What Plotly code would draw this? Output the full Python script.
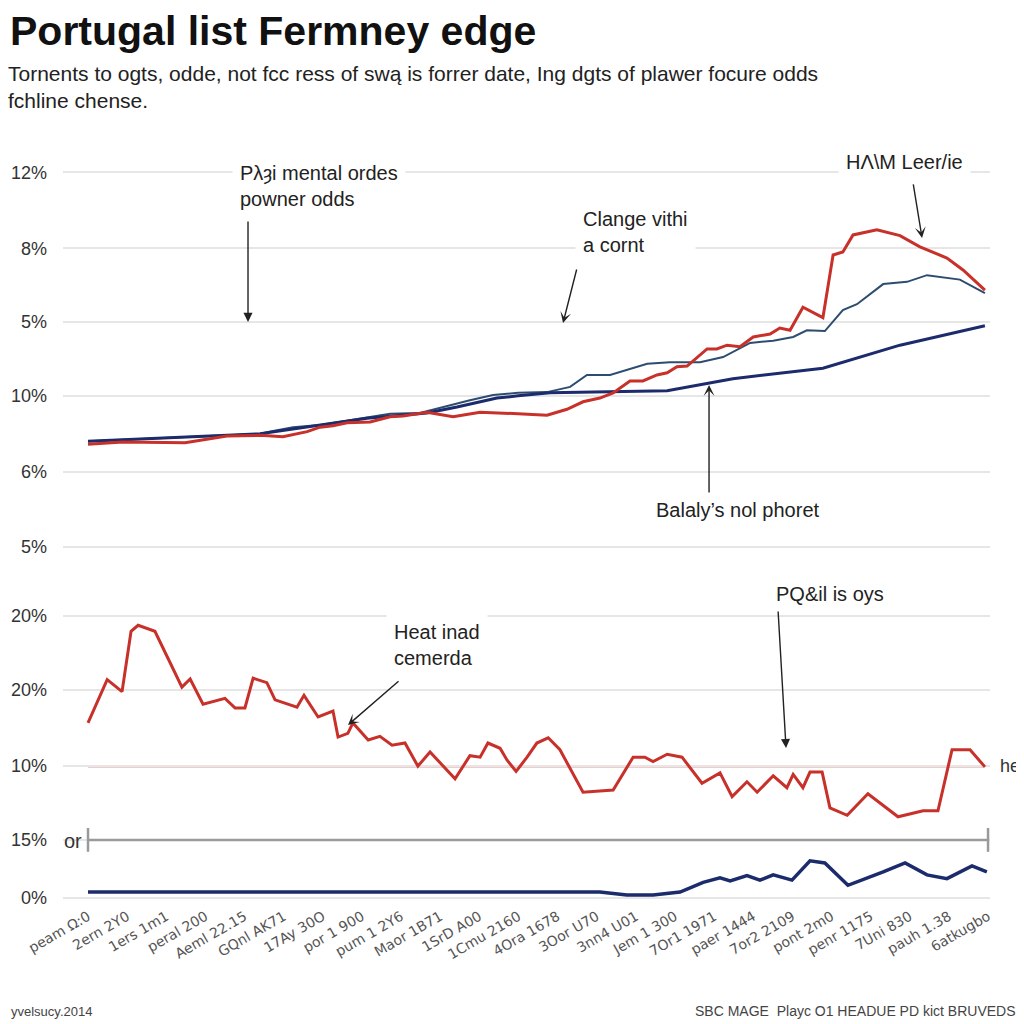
import plotly.graph_objects as go

# ---------------- data ----------------
periods = ["peam Ω:0", "2ern 2Y0", "1ers 1m1", "peral 200", "Aeml 22.15", "GQnl AK71",
           "17Ay 30O", "por 1 900", "pum 1 2Y6", "Maor 1B71", "1SrD A00", "1Cmu 2160",
           "4Ora 1678", "3Oor U70", "3nn4 U01", "Jem 1 300", "7Or1 1971", "paer 1444",
           "7or2 2109", "pont 2m0", "penr 1175", "7Uni 830", "pauh 1.38", "6atkugbo"]

y_tick_vals = [97.4, 87.2, 77.3, 67.4, 57.2, 47.1, 37.9, 27.9, 17.7, 7.8, 0]
y_tick_text = ["12%", "8%", "5%", "10%", "6%", "5%", "20%", "20%", "10%", "15%", "0%"]

upper_red_x = [0, 0.89, 2.48, 3.55, 4.40, 4.98, 5.60, 5.93, 6.26, 6.62, 7.21, 7.72, 8.05, 8.66,
               9.33, 10.02, 10.99, 11.73, 12.24, 12.65, 13.08, 13.42, 13.85, 14.18, 14.54, 14.80,
               15.05, 15.31, 15.82, 16.07, 16.33, 16.66, 17.00, 17.43, 17.68, 17.94, 18.27, 18.78,
               19.04, 19.29, 19.55, 20.16, 20.75, 21.26, 21.95, 22.36, 22.92]
upper_red_y = [60.9, 61.2, 61.1, 62.0, 62.1, 61.9, 62.6, 63.2, 63.4, 63.8, 63.9, 64.6, 64.7, 65.2,
               64.6, 65.2, 65.0, 64.8, 65.6, 66.6, 67.1, 67.8, 69.4, 69.4, 70.2, 70.5,
               71.3, 71.4, 73.7, 73.7, 74.2, 74.0, 75.3, 75.7, 76.5, 76.2, 79.3, 77.9,
               86.3, 86.7, 89.0, 89.7, 88.9, 87.4, 85.9, 84.3, 81.6]

upper_steel_x = [0, 4.40, 4.73, 5.24, 5.93, 6.95, 7.72, 8.48, 9.07, 9.76, 10.35, 10.99, 11.73,
                 12.32, 12.75, 13.34, 14.29, 14.87, 15.64, 16.23, 16.92, 17.51, 18.02, 18.37,
                 18.83, 19.29, 19.65, 20.32, 20.93, 21.44, 22.28, 22.92]
upper_steel_y = [61.3, 62.3, 62.7, 63.2, 63.5, 64.3, 65.0, 65.1, 65.9, 66.8, 67.5, 67.8, 67.9,
                 68.6, 70.2, 70.2, 71.7, 71.9, 71.9, 72.6, 74.5, 74.8, 75.3, 76.2,
                 76.1, 78.9, 79.7, 82.4, 82.7, 83.6, 83.0, 81.2]

upper_navy_x = [0, 4.40, 7.13, 8.66, 9.43, 10.45, 10.99, 11.81, 14.80, 16.48, 18.78, 20.75, 22.92]
upper_navy_y = [61.3, 62.3, 64.4, 65.1, 65.9, 67.1, 67.4, 67.8, 68.1, 69.7, 71.1, 74.2, 76.8]

lower_red_x = [0, 0.49, 0.87, 1.10, 1.28, 1.71, 2.40, 2.61, 2.94, 3.50, 3.76, 4.01, 4.22, 4.57,
               4.78, 5.34, 5.52, 5.88, 6.26, 6.39, 6.64, 6.77, 7.16, 7.46, 7.77, 8.10, 8.43, 8.74,
               9.38, 9.76, 10.02, 10.22, 10.53, 10.71, 10.94, 11.22, 11.47, 11.76, 12.06, 12.65,
               13.42, 13.93, 14.23, 14.44, 14.80, 15.18, 15.69, 16.15, 16.46, 16.84, 17.10, 17.51,
               17.86, 18.02, 18.27, 18.45, 18.76, 18.96, 19.40, 19.93, 20.70, 21.34, 21.72, 22.08,
               22.54, 22.92]
lower_red_y = [23.5, 29.3, 27.7, 35.8, 36.6, 35.8, 28.3, 29.4, 26.0, 26.8, 25.5, 25.5, 29.5, 28.9,
               26.6, 25.6, 27.2, 24.3, 25.1, 21.6, 22.1, 23.5, 21.2, 21.7, 20.5, 20.8, 17.7, 19.6,
               16.0, 19.1, 18.9, 20.8, 20.1, 18.5, 17.0, 18.9, 20.8, 21.5, 19.9, 14.2,
               14.5, 18.9, 18.9, 18.3, 19.3, 18.9, 15.4, 16.8, 13.6, 15.6, 14.2, 16.4,
               14.8, 16.6, 14.8, 16.9, 16.9, 12.1, 11.1, 14.0, 10.9, 11.7, 11.7, 19.9,
               19.9, 17.6]

lower_navy_x = [0, 13.08, 13.77, 14.44, 15.13, 15.72, 16.15, 16.41, 16.84, 17.17, 17.51, 17.99,
                18.45, 18.83, 19.42, 19.93, 20.32, 20.88, 21.44, 21.95, 22.59, 22.97]
lower_navy_y = [0.8, 0.8, 0.4, 0.4, 0.8, 2.1, 2.7, 2.3, 3.0, 2.4, 3.1, 2.4,
                5.0, 4.7, 1.7, 2.7, 3.5, 4.7, 3.1, 2.6, 4.3, 3.5]

ref_red_level = 17.7
ref_grey_level = 7.8

# ---------------- styling ----------------
RED = "#c8302a"
NAVY = "#1c2b6b"
STEEL = "#2d4d70"
TXT = "#222222"
FONT = "Liberation Sans, Arial, sans-serif"

# page body has an 8px margin: figure is drawn 8px in from the window corner
OFF = 8
W, H = 1024 - OFF, 1024 - OFF
PL, PR, PT, PB = 63, 990, 140, 905          # plot area in window pixels
L, T = PL - OFF, PT - OFF
R, B = W - (PR - OFF), H - (PB - OFF)
X0, X1 = -0.639, 23.05
Y0, Y1 = -0.94, 101.74


def X(px):
    return (px - 88) / 39.13


def Y(py):
    return (898 - py) / 7.45


def PX(px):
    return (px - PL) / (PR - PL)


def PY(py):
    return (PB - py) / (PB - PT)


fig = go.Figure()
fig.add_trace(go.Scatter(x=upper_steel_x, y=upper_steel_y, mode="lines",
                         line=dict(color=STEEL, width=2), hoverinfo="skip"))
fig.add_trace(go.Scatter(x=upper_navy_x, y=upper_navy_y, mode="lines",
                         line=dict(color=NAVY, width=3), hoverinfo="skip"))
fig.add_trace(go.Scatter(x=upper_red_x, y=upper_red_y, mode="lines",
                         line=dict(color=RED, width=3), hoverinfo="skip"))
fig.add_trace(go.Scatter(x=lower_red_x, y=lower_red_y, mode="lines",
                         line=dict(color=RED, width=3), hoverinfo="skip"))
fig.add_trace(go.Scatter(x=lower_navy_x, y=lower_navy_y, mode="lines",
                         line=dict(color=NAVY, width=3.5), hoverinfo="skip"))

# reference lines
fig.add_shape(type="line", xref="x", yref="y", x0=0, x1=22.92, y0=ref_red_level, y1=ref_red_level,
              line=dict(color=RED, width=2), layer="below")
fig.add_shape(type="line", xref="x", yref="y", x0=0, x1=23.0, y0=ref_grey_level, y1=ref_grey_level,
              line=dict(color="#9a9a9a", width=2.5))
for xe in (0, 23.0):
    fig.add_shape(type="line", xref="x", yref="y", x0=xe, x1=xe,
                  y0=ref_grey_level - 1.6, y1=ref_grey_level + 1.6,
                  line=dict(color="#9a9a9a", width=2.5))

ann = []


def box(text, px, py, xanchor="left", size=20):
    ann.append(dict(xref="x", yref="y", x=X(px), y=Y(py), text=text, showarrow=False,
                    xanchor=xanchor, yanchor="middle", align="left",
                    font=dict(family=FONT, size=size, color=TXT),
                    bgcolor="white", borderpad=7))


def arrow(tx, ty, hx, hy, head=2):
    ann.append(dict(xref="x", yref="y", axref="x", ayref="y", x=X(hx), y=Y(hy),
                    ax=X(tx), ay=Y(ty), text="", showarrow=True, arrowhead=head,
                    arrowsize=1.3, arrowwidth=1.4, arrowcolor=TXT))


box("Pλȝi mental ordes<br>powner odds", 232, 186)
arrow(248, 220, 248, 322, head=2)
box("Clange vithi<br>a cornt", 575, 232)
arrow(577, 268, 563, 323, head=3)
box("HΛ\\M Leer/ie", 838, 162)
arrow(913, 183, 922, 238, head=3)
box("Balaly’s nol phoret", 648, 510)
arrow(709, 494, 709, 385, head=3)
box("Heat inad<br>cemerda", 386, 645)
arrow(400, 680, 348, 725, head=3)
box("PQ&il is oys", 768, 594)
arrow(778, 610, 786, 748, head=2)

# free texts
ann.append(dict(xref="paper", yref="paper", x=PX(998), y=PY(766), text="he,", showarrow=False,
                xanchor="left", yanchor="middle", font=dict(family=FONT, size=18, color="#333")))
ann.append(dict(xref="paper", yref="paper", x=PX(62), y=PY(841), text="or", showarrow=False,
                xanchor="left", yanchor="middle", font=dict(family=FONT, size=20, color="#333")))
ann.append(dict(xref="paper", yref="paper", x=PX(8), y=PY(31), text="<b>Portugal list Fermney edge</b>",
                showarrow=False, xanchor="left", yanchor="middle",
                font=dict(family=FONT, size=41, color="#111")))
ann.append(dict(xref="paper", yref="paper", x=PX(6), y=PY(87),
                text="Tornents to ogts, odde, not fcc ress of swą is forrer date, Ing dgts of plawer focure odds<br>fchline chense.",
                showarrow=False, xanchor="left", yanchor="middle", align="left",
                font=dict(family=FONT, size=21, color="#222")))
ann.append(dict(xref="paper", yref="paper", x=PX(9), y=PY(1011), text="yvelsucy.2014",
                showarrow=False, xanchor="left", yanchor="middle",
                font=dict(family=FONT, size=13, color="#444")))
ann.append(dict(xref="paper", yref="paper", x=PX(1018), y=PY(1011),
                text="SBC MAGE  Playc O1 HEADUE PD kict BRUVEDS",
                showarrow=False, xanchor="right", yanchor="middle",
                font=dict(family=FONT, size=14, color="#444")))

fig.update_layout(
    width=W, height=H,
    margin=dict(l=L, r=R, t=T, b=B, autoexpand=False),
    paper_bgcolor="white", plot_bgcolor="white",
    showlegend=False,
    annotations=ann,
    xaxis=dict(range=[X0, X1], tickmode="array", tickvals=list(range(len(periods))),
               ticktext=periods, tickangle=-30, showgrid=False, zeroline=False,
               showline=False, ticks="", automargin=False,
               tickfont=dict(family="DejaVu Sans, sans-serif", size=14, color="#555")),
    yaxis=dict(range=[Y0, Y1], tickmode="array", tickvals=y_tick_vals, ticktext=y_tick_text,
               showgrid=True, gridcolor="#e6e6e6", gridwidth=1.5, zeroline=False,
               showline=False, ticks="", ticklabelstandoff=15, automargin=False,
               tickfont=dict(family=FONT, size=18, color="#333")),
)

fig.write_html("out.html")
